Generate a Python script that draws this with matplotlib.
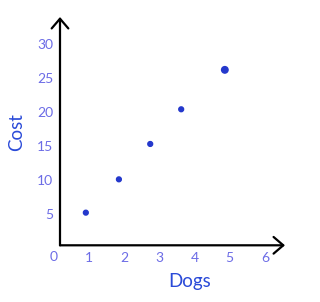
import matplotlib
matplotlib.use("Agg")
import matplotlib.pyplot as plt

#----data----
dogs = [0.91, 1.85, 2.74, 3.62, 4.86]
cost = [5.2, 10.1, 15.3, 20.4, 26.2]
x_ticks = [1, 2, 3, 4, 5, 6]
y_ticks = [5, 10, 15, 20, 25, 30]

#----style----
point_sizes = [12, 12, 12, 12, 22]
tick_color = "#6c6ce6"
label_color = "#2a4ad8"
point_color = "#2438cc"

plt.rcParams['font.family'] = ['Lato', 'DejaVu Sans']

fig = plt.figure(figsize=(3.2, 3.02), dpi=100)
ax = fig.add_axes([60/320, (302-245.3)/302, 225/320, (245.3-17)/302])

ax.scatter(dogs, cost, s=point_sizes, color=point_color, zorder=3, clip_on=False)

ax.set_xlim(0.176, 6.57)
ax.set_ylim(0.4, 33.97)
ax.set_xticks(x_ticks)
ax.set_yticks(y_ticks)
ax.tick_params(length=0, labelsize=10, labelcolor=tick_color)
ax.tick_params(axis='x', pad=5)
ax.tick_params(axis='y', pad=5)

# the 0 at the corner sits left of the axis line
ax.text(0, -0.025, "0", transform=ax.get_xaxis_transform(), ha='center', va='top',
        fontsize=10, color=tick_color, clip_on=False)

for s in ax.spines.values():
    s.set_visible(False)

# axes as arrows
arrow = dict(arrowstyle='->,head_length=0.7,head_width=0.6', lw=1.6, color='black',
             shrinkA=0, shrinkB=0)
ax.annotate('', xy=(1, 0), xytext=(0, 0), xycoords='axes fraction', arrowprops=arrow)
ax.annotate('', xy=(0, 1), xytext=(0, 0), xycoords='axes fraction', arrowprops=arrow)

fig.text(16.5/320, 1-132/302, "Cost", rotation=90, ha='center', va='center',
         fontsize=13.5, color=label_color)
fig.text(190/320, 1-281/302, "Dogs", ha='center', va='center',
         fontsize=13.5, color=label_color)

fig.savefig("out.png", dpi=100)
